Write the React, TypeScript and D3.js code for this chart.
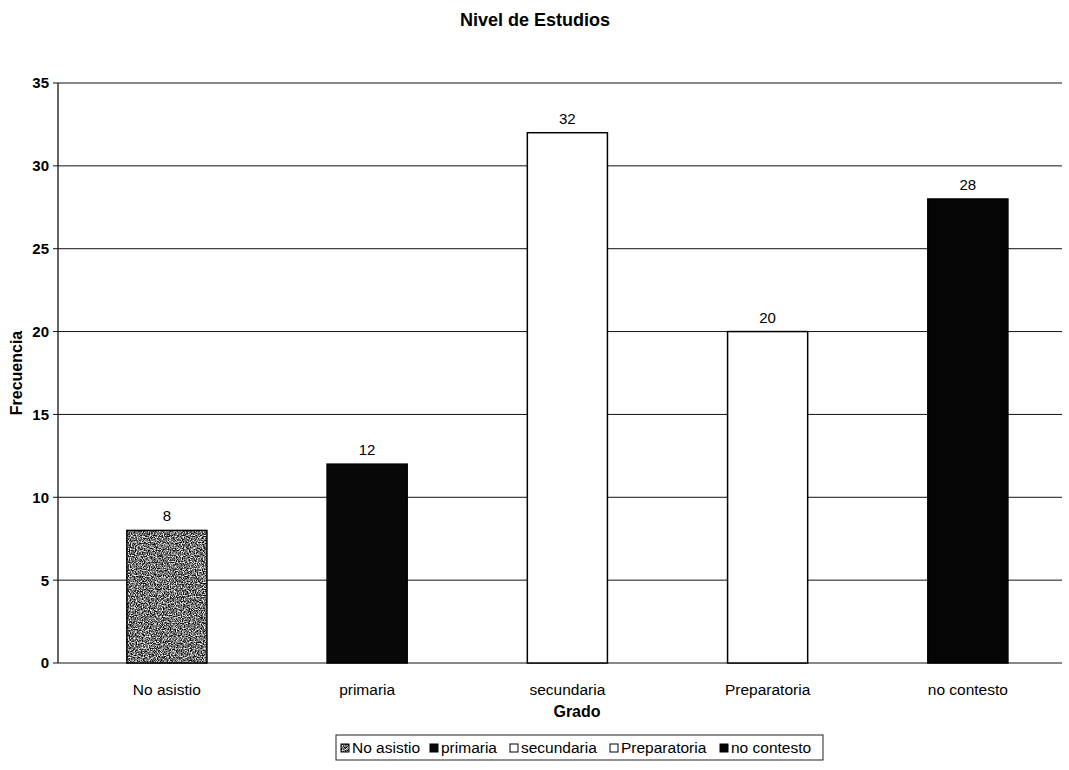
import React from 'react';
import * as d3 from 'd3';

const categories = ['No asistio', 'primaria', 'secundaria', 'Preparatoria', 'no contesto'];
const values = [8, 12, 32, 20, 28];
const fills = ['url(#grain)', '#080808', '#ffffff', '#ffffff', '#050505'];
const yTicks = [0, 5, 10, 15, 20, 25, 30, 35];

const W = 1069;
const H = 770;
const margin = { top: 83, right: 7, bottom: 107, left: 58 };

export default function App() {
  const x = d3.scaleBand<string>()
    .domain(categories)
    .range([margin.left, W - margin.right])
    .paddingInner(0.6)
    .paddingOuter(0.307)
    .align(0.56);

  const y = d3.scaleLinear()
    .domain([0, 35])
    .range([H - margin.bottom, margin.top]);

  const font = 'Arial, "Liberation Sans", sans-serif';
  // legend layout
  const legendX = 336;
  const legendY = 735;
  const legendItemX = [341, 430, 510, 610, 720];

  return (
    <svg width={W} height={H} style={{ position: 'absolute', left: 0, top: 0, background: '#fff' }} fontFamily={font}>
      <defs>
        <filter id="noise" x="0" y="0" width="100%" height="100%">
          <feTurbulence type="fractalNoise" baseFrequency="0.85" numOctaves="2" seed="3" />
          <feColorMatrix type="matrix" values="0 0 0 0 0  0 0 0 0 0  0 0 0 0 0  0 0 0 -2.4 1.75" />
        </filter>
        <pattern id="grain" patternUnits="userSpaceOnUse" width="120" height="200">
          <rect width="120" height="200" fill="#ffffff" />
          <rect width="120" height="200" filter="url(#noise)" />
        </pattern>
      </defs>

      <text x={535} y={26} textAnchor="middle" fontSize={18} fontWeight="bold">Nivel de Estudios</text>

      {/* grid lines */}
      {yTicks.map(t => (
        <line key={t} x1={margin.left} x2={W - margin.right} y1={y(t)} y2={y(t)} stroke="#111" strokeWidth={1} />
      ))}

      {/* y axis */}
      <line x1={margin.left} x2={margin.left} y1={y(35)} y2={y(0)} stroke="#111" strokeWidth={1.3} />
      {yTicks.map(t => (
        <g key={'t' + t}>
          <line x1={margin.left - 5} x2={margin.left} y1={y(t)} y2={y(t)} stroke="#111" />
          <text x={margin.left - 9} y={y(t)} dy="0.36em" textAnchor="end" fontSize={15} fontWeight="bold">{t}</text>
        </g>
      ))}

      {/* bars */}
      {categories.map((c, i) => (
        <g key={c}>
          <rect x={x(c)} y={y(values[i])} width={x.bandwidth()} height={y(0) - y(values[i])}
            fill={fills[i]} stroke="#000" strokeWidth={1.5} />
          <text x={(x(c) ?? 0) + x.bandwidth() / 2} y={y(values[i]) - 9} textAnchor="middle" fontSize={15}>{values[i]}</text>
          <text x={(x(c) ?? 0) + x.bandwidth() / 2} y={y(0) + 32} textAnchor="middle" fontSize={15.5}>{c}</text>
        </g>
      ))}

      <text x={577} y={717} textAnchor="middle" fontSize={16} fontWeight="bold">Grado</text>
      <text transform={`translate(22,${(y(0) + y(35)) / 2}) rotate(-90)`} textAnchor="middle" fontSize={16} fontWeight="bold">Frecuencia</text>

      {/* legend */}
      <rect x={legendX} y={legendY} width={823 - legendX} height={25} fill="none" stroke="#222" strokeWidth={1} />
      {categories.map((c, i) => (
        <g key={'l' + c}>
          <rect x={legendItemX[i]} y={legendY + 9} width={8} height={8} fill={fills[i]} stroke="#000" strokeWidth={1} />
          <text x={legendItemX[i] + 11} y={legendY + 18} fontSize={15.5}>{c}</text>
        </g>
      ))}
    </svg>
  );
}
